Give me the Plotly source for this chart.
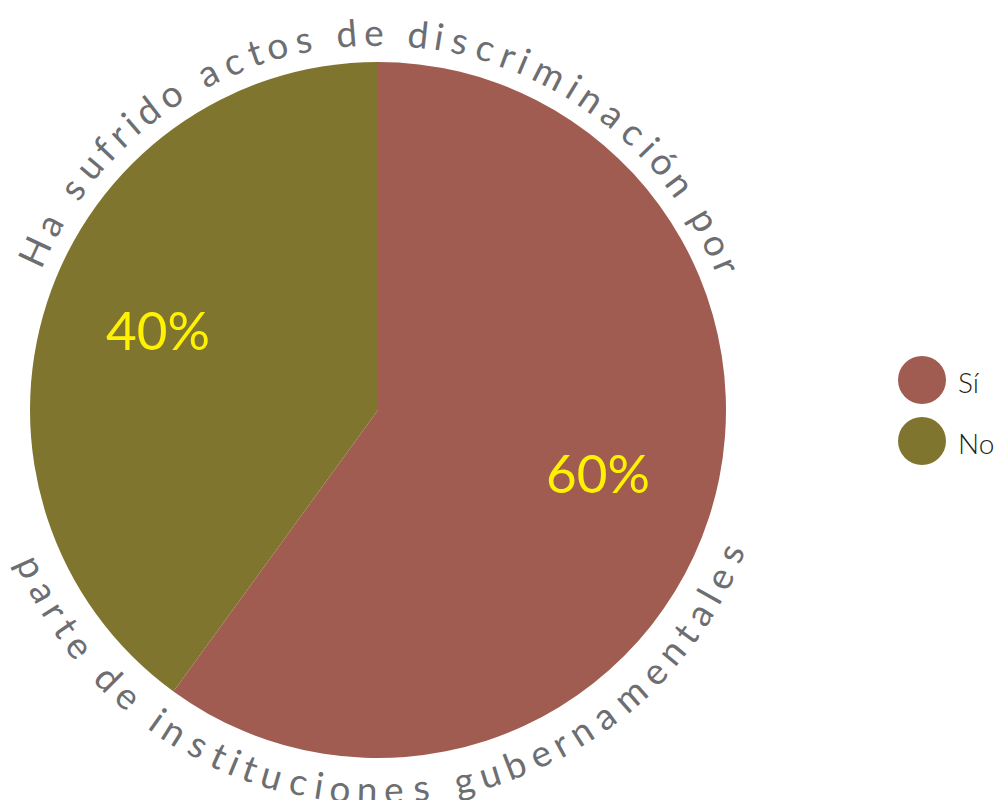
import math
import plotly.graph_objects as go

# ---- data ----
labels = ["Sí", "No"]
values = [60, 40]
colors = ["#A05C50", "#80752F"]
title_top = "Ha sufrido actos de discriminación por"
title_bottom = "parte de instituciones gubernamentales"

# ---- geometry / style (page pixels; the page body has an 8px margin) ----
OFF = 8
W, H = 1004 - OFF, 800 - OFF
cx, cy, R = 378 - OFF, 410 - OFF, 348
TXT_GREY = "#6D6E71"
FONT = "Lato"


def px(x, y):
    """figure pixel -> paper coords"""
    return x / W, 1 - y / H


fig = go.Figure(go.Pie(
    labels=labels, values=values, sort=False, direction="clockwise", rotation=0,
    marker=dict(colors=colors, line=dict(width=0)),
    textinfo="none", hoverinfo="label+percent", showlegend=False,
    domain=dict(x=[(cx - R) / W, (cx + R) / W], y=[(H - cy - R) / H, (H - cy + R) / H]),
))

annotations = []

# percentage labels at each slice's mid angle
total = sum(values)
cum = 0.0
for v in values:
    mid = (cum + v / 2) / total * 360.0
    cum += v
    t = math.radians(mid)
    x = cx + 0.665 * R * math.sin(t)
    y = cy - 0.665 * R * math.cos(t) - 9
    xp, yp = px(x, y)
    annotations.append(dict(x=xp, y=yp, xref="paper", yref="paper",
                            text=f"{round(v / total * 100)}%", showarrow=False,
                            xanchor="center", yanchor="middle",
                            font=dict(family=FONT, size=53, color="#FFF200", weight=400)))


def adv(ch):
    if ch in "il":
        return 0.26
    if ch in "rtf":
        return 0.38
    if ch == " ":
        return 0.30
    if ch in "mw":
        return 0.92
    if ch == "H":
        return 0.74
    return 0.58


def arc_text(text, th0, th1, r, bottom, size):
    track = 0.12
    pos, s = [], 0.0
    for ch in text:
        a = adv(ch) + track
        pos.append(s + a / 2)
        s += a
    p0, p1 = pos[0], pos[-1]
    anns = []
    for ch, p in zip(text, pos):
        if ch == " ":
            continue
        th = th0 + (th1 - th0) * (p - p0) / (p1 - p0)
        t = math.radians(th)
        x = cx + r * math.sin(t)
        y = cy - r * math.cos(t)
        ang = th - 180 if bottom else th
        xp, yp = px(x, y)
        anns.append(dict(x=xp, y=yp, xref="paper", yref="paper", text=ch,
                         showarrow=False, xanchor="center", yanchor="middle",
                         textangle=ang, font=dict(family=FONT, size=size, color=TXT_GREY)))
    return anns


annotations += arc_text(title_top, -65.3, 67.6, 379, False, 37)
annotations += arc_text(title_bottom, 245.6, 112.1, 379, True, 37)

# legend (manual, large circular markers)
leg_y = [380 - OFF, 441 - OFF]
leg_cx = 922 - OFF
shapes = []
for lab, col, yy in zip(labels, colors, leg_y):
    x0, y0 = px(leg_cx - 24, yy + 24)
    x1, y1 = px(leg_cx + 24, yy - 24)
    shapes.append(dict(type="circle", xref="paper", yref="paper",
                       x0=x0, x1=x1, y0=y0, y1=y1,
                       fillcolor=col, line=dict(width=0)))
    tx, ty = px(956 - OFF, yy + 2)
    annotations.append(dict(x=tx, y=ty, xref="paper", yref="paper",
                            text=lab, showarrow=False, xanchor="left", yanchor="middle",
                            font=dict(family=FONT, size=28, color="#231F20", weight=300)))

fig.update_layout(width=W, height=H, margin=dict(l=0, r=0, t=0, b=0),
                  paper_bgcolor="white", plot_bgcolor="white",
                  annotations=annotations, shapes=shapes)
fig.write_html("out.html")
